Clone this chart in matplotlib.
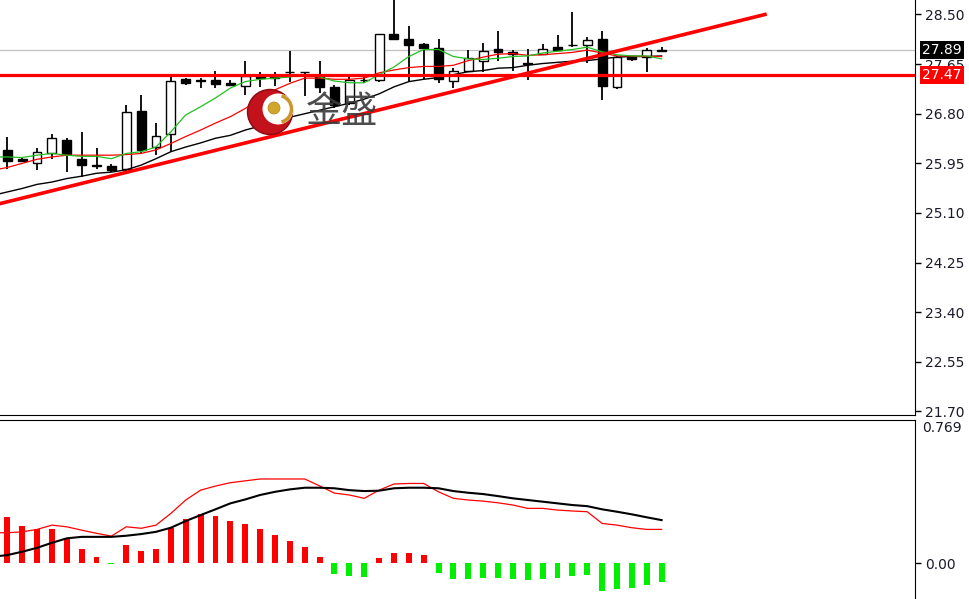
import numpy as np
import matplotlib.pyplot as plt
from matplotlib.patches import Circle, Arc

plt.rcParams['font.family'] = ['DejaVu Sans']

# ---- price candles (bar index 0..44)
opens = [26.18, 26.03, 25.95, 26.12, 26.35, 26.02, 25.92, 25.91, 25.86, 26.84,
         26.23, 26.45, 27.39, 27.37, 27.38, 27.32, 27.28, 27.47, 27.47, 27.52,
         27.52, 27.44, 27.26, 26.98, 27.37, 27.38, 28.17, 28.08, 28.00, 27.93,
         27.36, 27.54, 27.70, 27.91, 27.86, 27.67, 27.83, 27.95, 27.98, 27.98,
         28.08, 27.25, 27.78, 27.77, 27.88]
highs = [26.41, 26.05, 26.21, 26.46, 26.38, 26.48, 26.21, 25.94, 26.95, 27.12,
         26.64, 27.45, 27.42, 27.41, 27.54, 27.38, 27.70, 27.52, 27.52, 27.88,
         27.52, 27.70, 27.30, 27.45, 27.44, 28.17, 28.74, 28.31, 28.01, 28.08,
         27.59, 27.90, 28.02, 28.22, 27.90, 27.91, 28.00, 28.14, 28.54, 28.11,
         28.22, 27.79, 27.79, 27.93, 27.94]
lows = [25.86, 25.97, 25.83, 26.03, 25.80, 25.71, 25.86, 25.80, 25.82, 26.12,
        26.09, 26.15, 27.29, 27.24, 27.24, 27.27, 27.12, 27.25, 27.28, 27.35,
        27.11, 27.15, 26.90, 26.95, 27.32, 27.35, 28.08, 27.35, 27.40, 27.32,
        27.24, 27.52, 27.52, 27.70, 27.54, 27.38, 27.80, 27.87, 27.95, 27.67,
        27.04, 27.22, 27.71, 27.51, 27.86]
closes = [25.99, 25.99, 26.15, 26.38, 26.11, 25.92, 25.91, 25.84, 26.83, 26.18,
          26.42, 27.36, 27.33, 27.36, 27.31, 27.29, 27.44, 27.41, 27.41, 27.51,
          27.51, 27.26, 26.95, 27.38, 27.38, 28.16, 28.08, 27.97, 27.93, 27.39,
          27.54, 27.75, 27.87, 27.85, 27.82, 27.66, 27.91, 27.90, 27.97, 28.06,
          27.28, 27.78, 27.74, 27.90, 27.89]

# ---- moving averages (bar index -1..44)
ma_fast = [26.06, 26.06, 26.05, 26.09, 26.12, 26.09, 26.07, 26.07, 26.03, 26.12,
           26.15, 26.23, 26.49, 26.78, 26.92, 27.07, 27.24, 27.35, 27.39, 27.41,
           27.43, 27.47, 27.43, 27.36, 27.33, 27.33, 27.47, 27.60, 27.78, 27.90,
           27.90, 27.78, 27.74, 27.73, 27.75, 27.78, 27.79, 27.84, 27.87, 27.90,
           27.94, 27.86, 27.81, 27.79, 27.79, 27.74]
ma_mid = [25.83, 25.88, 25.95, 26.02, 26.06, 26.09, 26.09, 26.09, 26.09, 26.10,
          26.12, 26.18, 26.29, 26.41, 26.52, 26.64, 26.75, 26.89, 27.05, 27.21,
          27.32, 27.41, 27.41, 27.39, 27.39, 27.41, 27.50, 27.55, 27.59, 27.61,
          27.61, 27.63, 27.71, 27.77, 27.82, 27.83, 27.80, 27.81, 27.83, 27.85,
          27.89, 27.84, 27.79, 27.79, 27.78, 27.78]
ma_slow = [25.40, 25.46, 25.52, 25.59, 25.63, 25.69, 25.73, 25.78, 25.80, 25.84,
           25.92, 26.03, 26.15, 26.23, 26.30, 26.38, 26.43, 26.52, 26.59, 26.66,
           26.74, 26.80, 26.86, 26.92, 26.98, 27.05, 27.14, 27.26, 27.35, 27.39,
           27.42, 27.47, 27.52, 27.54, 27.58, 27.59, 27.63, 27.66, 27.68, 27.70,
           27.71, 27.74, 27.77, 27.78, 27.78, 27.79]

# ---- drawn objects
trend_x = [-0.5, 50.95]
trend_y = [25.26, 28.50]
support_level = 27.47
last_price = 27.89
price_ticks = [28.50, 27.65, 26.80, 25.95, 25.10, 24.25, 23.40, 22.55, 21.70]

# ---- MACD (hist: bar 0..44, lines: bar -1..44)
macd_hist = [0.247, 0.199, 0.183, 0.183, 0.134, 0.075, 0.032, -0.005, 0.097, 0.065,
             0.075, 0.188, 0.237, 0.263, 0.253, 0.226, 0.210, 0.183, 0.151, 0.118,
             0.086, 0.032, -0.059, -0.070, -0.075, 0.027, 0.054, 0.054, 0.043, -0.054,
             -0.086, -0.086, -0.081, -0.081, -0.086, -0.091, -0.086, -0.081, -0.070, -0.065,
             -0.151, -0.140, -0.134, -0.118, -0.102]
macd_dif = [0.163, 0.163, 0.168, 0.181, 0.204, 0.195, 0.177, 0.160, 0.145, 0.195,
            0.187, 0.204, 0.267, 0.339, 0.392, 0.414, 0.432, 0.442, 0.452, 0.452,
            0.452, 0.452, 0.415, 0.376, 0.366, 0.348, 0.392, 0.425, 0.428, 0.428,
            0.383, 0.348, 0.339, 0.333, 0.324, 0.312, 0.294, 0.294, 0.285, 0.280,
            0.276, 0.213, 0.204, 0.190, 0.181, 0.181]
macd_dea = [0.034, 0.043, 0.061, 0.082, 0.109, 0.133, 0.141, 0.141, 0.141, 0.147,
            0.156, 0.168, 0.190, 0.226, 0.258, 0.289, 0.321, 0.342, 0.366, 0.383,
            0.396, 0.405, 0.405, 0.402, 0.392, 0.387, 0.389, 0.402, 0.405, 0.405,
            0.402, 0.387, 0.378, 0.371, 0.360, 0.348, 0.339, 0.330, 0.321, 0.312,
            0.306, 0.289, 0.276, 0.262, 0.246, 0.231]
macd_top = 0.769

W, H = 970, 599
fig = plt.figure(figsize=(W / 100, H / 100), dpi=100)
ax = fig.add_axes([0, 1 - 415 / H, 915 / W, 415 / H])
ax2 = fig.add_axes([0, 0, 915 / W, 179 / H])

x = np.arange(len(opens))
lx = np.arange(-1, len(opens))
o = np.array(opens)
c = np.array(closes)
up = c >= o

# candles
ax.vlines(x, lows, highs, color='black', lw=1.3, zorder=2)
ax.bar(x, np.maximum(np.abs(c - o), 0.004), bottom=np.minimum(o, c), width=0.6,
       color=np.where(up, 'white', 'black'), edgecolor='black', linewidth=1, zorder=3)

# indicator lines
ax.axhline(last_price, color='#c0c0c0', lw=0.9, zorder=1)
ax.plot(lx, ma_slow, color='black', lw=1.0, zorder=4)
ax.plot(lx, ma_mid, color='#ff0000', lw=0.9, zorder=4)
ax.plot(lx, ma_fast, color='#22c022', lw=0.9, zorder=4)
ax.axhline(support_level, color='#ff0000', lw=2.3, zorder=5)
ax.plot(trend_x, trend_y, color='#ff0000', lw=2.6, zorder=5)

ax.set_xlim(-0.49, 61.04)
ax.set_ylim(21.64, 28.748)
ax.set_xticks([])
ax.yaxis.tick_right()
ax.set_yticks(price_ticks)
ax.set_yticklabels([f'{t:.2f}' for t in price_ticks])
ax.tick_params(axis='y', direction='out', length=4, width=1, pad=3,
               labelsize=10, labelcolor='#1a1a2a')
for s in ['top', 'left']:
    ax.spines[s].set_visible(False)

for val, bg in [(last_price, 'black'), (support_level, '#ff0000')]:
    ax.text(1.008, val, f'{val:.2f}', transform=ax.get_yaxis_transform(),
            ha='left', va='center', color='white', fontsize=10,
            bbox=dict(boxstyle='square,pad=0.15', fc=bg, ec='none'),
            zorder=10, clip_on=False)

# MACD panel
ax2.bar(x, macd_hist, width=0.4,
        color=['#ff0000' if v >= 0 else '#00ee00' for v in macd_hist], zorder=2)
ax2.plot(lx, macd_dif, color='#ff0000', lw=0.9, zorder=3)
ax2.plot(lx, macd_dea, color='black', lw=1.5, zorder=3)
ax2.set_xlim(-0.49, 61.04)
ax2.set_ylim(-0.193, macd_top)
ax2.set_xticks([])
ax2.yaxis.tick_right()
ax2.set_yticks([0.0])
ax2.set_yticklabels(['0.00'])
ax2.tick_params(axis='y', direction='out', length=4, width=1, pad=3,
                labelsize=10, labelcolor='#1a1a2a')
for s in ['bottom', 'left']:
    ax2.spines[s].set_visible(False)
ax2.text(1.008, 0.995, f'{macd_top:.3f}', transform=ax2.transAxes, ha='left',
         va='top', fontsize=10, color='#1a1a2a')

# watermark logo
def px(xp, yp):
    return (xp / 100, (H - yp) / 100)

tr = fig.dpi_scale_trans
fig.patches.append(Circle(px(270, 112), 0.225, transform=tr, fc='#c4121c',
                          ec='#8a0a10', lw=1, zorder=5))
fig.patches.append(Circle(px(278, 109), 0.155, transform=tr, fc='white',
                          ec='none', zorder=6))
fig.patches.append(Arc(px(278, 109), 0.27, 0.27, transform=tr, theta1=-75,
                       theta2=75, color='#c9982c', lw=2.5, zorder=7))
fig.patches.append(Circle(px(274, 108), 0.06, transform=tr, fc='#d2a62a',
                          ec='#b08020', lw=0.5, zorder=8))
fig.text(342 / W, 1 - 112 / H, '金盛', ha='center', va='center', fontsize=26,
         color='#3a3a3a', alpha=0.9, family=['Noto Sans CJK SC', 'DejaVu Sans'])

fig.savefig('out.png', dpi=100)
